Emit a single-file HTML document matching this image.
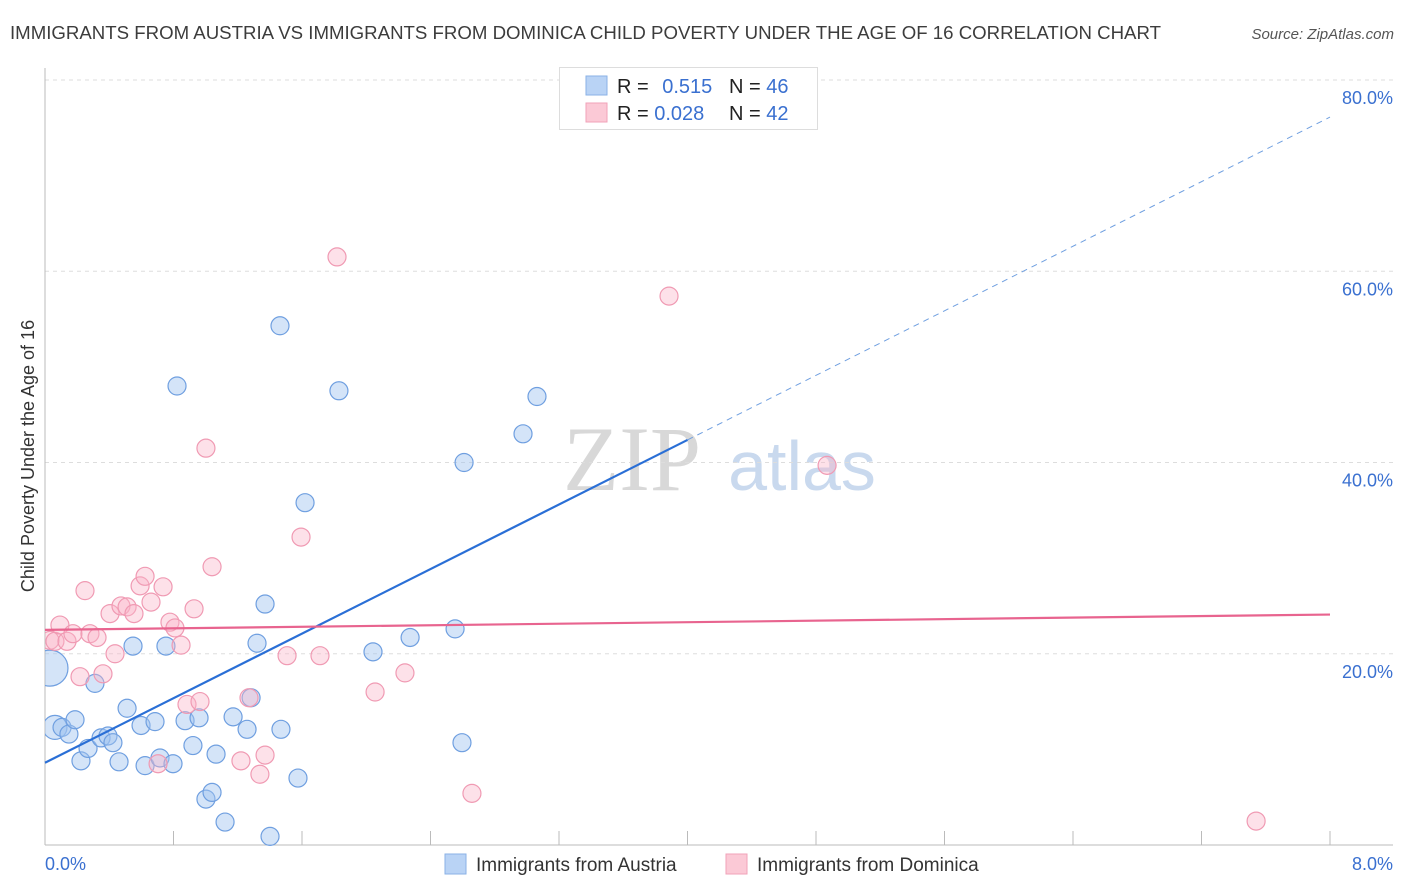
<!DOCTYPE html>
<html><head><meta charset="utf-8">
<style>
body{margin:0;background:#fff;font-family:"Liberation Sans",sans-serif;}
#wrap{position:relative;width:1406px;height:892px;overflow:hidden;}
</style></head>
<body>
<div id="wrap">
<svg id="svg" width="1406" height="892" xmlns="http://www.w3.org/2000/svg">
<defs><clipPath id="plotclip"><rect x="45" y="60" width="1360" height="786"/></clipPath></defs>
<text x="10" y="39" font-size="18" fill="#3c3c3c" textLength="1151" lengthAdjust="spacingAndGlyphs">IMMIGRANTS FROM AUSTRIA VS IMMIGRANTS FROM DOMINICA CHILD POVERTY UNDER THE AGE OF 16 CORRELATION CHART</text>
<text x="1394" y="39" font-size="15" fill="#555" font-style="italic" text-anchor="end">Source: ZipAtlas.com</text>
<text x="34" y="456" font-size="18" fill="#333" text-anchor="middle" transform="rotate(-90 34 456)">Child Poverty Under the Age of 16</text>
<g>
<text x="632" y="490" font-size="92" fill="#d8d8d8" font-family="Liberation Serif,serif" text-anchor="middle">ZIP</text>
<text x="802" y="490" font-size="70" fill="#c9d9ee" text-anchor="middle">atlas</text>
</g>
<g id="grid"></g>
<g id="marks" clip-path="url(#plotclip)"></g>
<g id="lines"></g>
<g>
<rect x="559.5" y="67.5" width="258" height="62" fill="#fff" stroke="#ddd"/>
<rect x="586" y="76" width="21" height="19" fill="#b9d3f5" stroke="#8ab2e6"/>
<rect x="586" y="103" width="21" height="19" fill="#fbc9d6" stroke="#f0a2b8"/>
<text x="617" y="93" font-size="20" fill="#222">R = <tspan fill="#3a70d0" dx="8">0.515</tspan></text>
<text x="729" y="93" font-size="20" fill="#222">N = <tspan fill="#3a70d0">46</tspan></text>
<text x="617" y="120" font-size="20" fill="#222">R = <tspan fill="#3a70d0">0.028</tspan></text>
<text x="729" y="120" font-size="20" fill="#222">N = <tspan fill="#3a70d0">42</tspan></text>
</g>
<g>
<rect x="445" y="854" width="21" height="20" fill="#b9d3f5" stroke="#8ab2e6"/>
<text x="476" y="871" font-size="19" fill="#333">Immigrants from Austria</text>
<rect x="726" y="854" width="21" height="20" fill="#fbc9d6" stroke="#f0a2b8"/>
<text x="757" y="871" font-size="19" fill="#333">Immigrants from Dominica</text>
</g>
<text x="45" y="870" font-size="18" fill="#3a70d0">0.0%</text>
<text x="1393" y="870" font-size="18" fill="#3a70d0" text-anchor="end">8.0%</text>
</svg>
</div>
<script>
const blueX=[0.062,0.031,0.106,0.149,0.187,0.224,0.268,0.311,0.349,0.392,0.423,0.461,0.511,0.548,0.598,0.623,0.685,0.716,0.753,0.797,0.822,0.872,0.921,0.959,1.002,1.040,1.065,1.121,1.171,1.258,1.283,1.320,1.370,1.401,1.463,1.469,1.575,1.619,1.830,2.042,2.273,2.553,2.596,2.609,2.976,3.063];
const blueY=[12.3,18.5,12.3,11.6,13.1,8.8,10.1,16.9,11.2,11.4,10.7,8.7,14.3,20.8,12.5,8.3,12.9,9.1,20.8,8.5,48.0,13.0,10.4,13.3,4.8,5.5,9.5,2.4,13.4,12.1,15.4,21.1,25.2,0.9,54.3,12.1,7.0,35.8,47.5,20.2,21.7,22.6,10.7,40.0,43.0,46.9];
const blueR=[12,18,9,9,9,9,9,9,9,9,9,9,9,9,9,9,9,9,9,9,9,9,9,9,9,9,9,9,9,9,9,9,9,9,9,9,9,9,9,9,9,9,9,9,9,9];
const pinkX=[0.031,0.062,0.093,0.137,0.174,0.218,0.249,0.280,0.324,0.361,0.405,0.436,0.473,0.511,0.554,0.592,0.623,0.660,0.704,0.735,0.778,0.809,0.847,0.884,0.928,0.965,1.002,1.040,1.220,1.270,1.338,1.370,1.507,1.594,1.712,1.818,2.055,2.241,2.658,3.885,4.869,7.540];
const pinkY=[21.4,21.3,23.0,21.3,22.1,17.6,26.6,22.1,21.7,17.9,24.2,20.0,25.0,24.9,24.2,27.1,28.1,25.4,8.5,27.0,23.3,22.7,20.9,14.7,24.7,15.0,41.5,29.1,8.8,15.4,7.4,9.4,19.8,32.2,19.8,61.5,16.0,18.0,5.4,57.4,39.7,2.5];
const yTicks=[20,40,60,80];
const yTickLabels=["20.0%","40.0%","60.0%","80.0%"];
const xTicks=[0,0.8,1.6,2.4,3.2,4.0,4.8,5.6,6.4,7.2,8.0];
const blueFit=[8.6,8.44];
const pinkFit=[22.5,0.2];
const blueSolidEnd=4.0;

const NS="http://www.w3.org/2000/svg";
const X=v=>45+v/8*1285;
const Y=v=>845-v/80*765;
function mk(tag,attrs,parent){const e=document.createElementNS(NS,tag);for(const k in attrs)e.setAttribute(k,attrs[k]);parent.appendChild(e);return e;}
const grid=document.getElementById('grid'),marks=document.getElementById('marks'),lines=document.getElementById('lines');
yTicks.forEach((t,i)=>{
  const l=mk('line',{x1:45,x2:1393,y1:Y(t),y2:Y(t),stroke:'#ddd','stroke-dasharray':'4,4'},grid);
  
  
  const tx=mk('text',{x:1393,y:Y(t)+24,'font-size':18,fill:'#3a70d0','text-anchor':'end'},grid);
  tx.textContent=yTickLabels[i];
  
  
});
const ax=mk('line',{x1:45,x2:45,y1:68,y2:845,stroke:'#bbb'},grid);


const bx=mk('line',{x1:45,x2:1393,y1:845,y2:845,stroke:'#bbb'},grid);


xTicks.forEach(t=>{
  const l=mk('line',{x1:X(t),x2:X(t),y1:831,y2:845,stroke:'#bbb'},grid);
  
  
});
blueX.forEach((x,i)=>{
  const c=mk('circle',{cx:X(x),cy:Y(blueY[i]),r:blueR[i],fill:'rgba(160,195,240,0.45)',stroke:'#6f9fe0','stroke-width':1.2},marks);
  
  
});
pinkX.forEach((x,i)=>{
  const c=mk('circle',{cx:X(x),cy:Y(pinkY[i]),r:9,fill:'rgba(250,180,200,0.4)',stroke:'#f09ab3','stroke-width':1.2},marks);
  
  
});
const bl=mk('line',{x1:X(0),y1:Y(blueFit[0]),x2:X(blueSolidEnd),y2:Y(blueFit[0]+blueFit[1]*blueSolidEnd),stroke:'#2a6fd6','stroke-width':2.2},lines);


const bd=mk('line',{x1:X(blueSolidEnd),y1:Y(blueFit[0]+blueFit[1]*blueSolidEnd),x2:X(8),y2:Y(blueFit[0]+blueFit[1]*8),stroke:'#6f9fe0','stroke-width':1,'stroke-dasharray':'6,5'},lines);


const pl=mk('line',{x1:X(0),y1:Y(pinkFit[0]),x2:X(8),y2:Y(pinkFit[0]+pinkFit[1]*8),stroke:'#e8648f','stroke-width':2.2},lines);


</script>
</body></html>
